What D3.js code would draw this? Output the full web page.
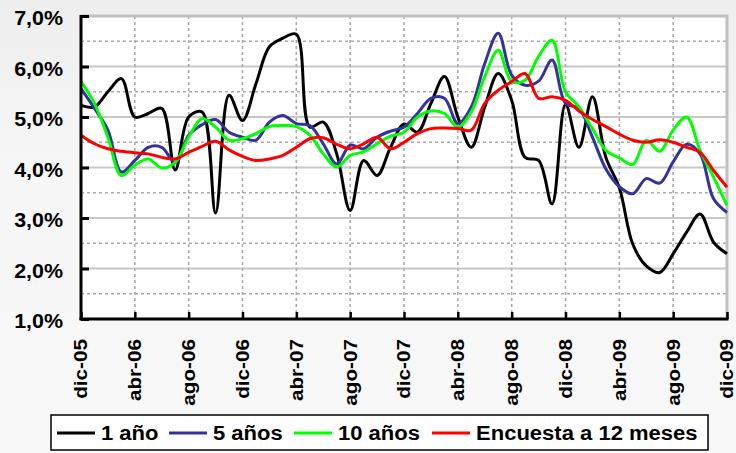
<!DOCTYPE html>
<html>
<head>
<meta charset="utf-8">
<script src="https://cdn.jsdelivr.net/npm/d3@7"></script>
<style>
  html, body { margin: 0; padding: 0; }
  body { width: 736px; height: 453px; overflow: hidden;
         background: linear-gradient(#eeeeee, #f7f7f7 40%, #f8f8f8); }
  text { font-family: "Liberation Sans", Arial, sans-serif; font-weight: bold; fill: #000; }
</style>
</head>
<body>
<svg id="chart" width="736" height="453"></svg>
<script>
// Expectativas de inflación: tasas implícitas (1, 5 y 10 años) y encuesta a 12 meses
const inicio = new Date(2005, 11, 1);
const fin = new Date(2009, 11, 1);
const meses = d3.timeMonth.range(inicio, d3.timeMonth.offset(fin, 1));

const unAno = [5.23, 5.2, 5.5, 5.76, 5.0, 5.07, 5.17, 3.95, 5.0, 5.1, 3.1, 5.43, 4.93,
  5.66, 6.39, 6.56, 6.64, 4.8, 4.9, 4.27, 3.15, 4.14, 3.84, 4.4, 4.86,
  4.7, 5.27, 5.8, 5.0, 4.4, 5.2, 5.86, 5.33, 4.2, 4.14, 3.28, 5.25,
  4.4, 5.4, 4.2, 3.6, 2.48, 2.05, 1.92, 2.29, 2.72, 3.08, 2.52, 2.29];

const cincoAnos = [5.56, 5.17, 4.74, 3.91, 4.14, 4.4, 4.4, 4.1, 4.64, 4.85, 4.95, 4.7, 4.6,
  4.54, 4.9, 5.03, 4.87, 4.83, 4.47, 4.07, 4.44, 4.37, 4.6, 4.72, 4.8,
  5.07, 5.37, 5.37, 4.87, 5.2, 6.06, 6.66, 5.83, 5.63, 5.71, 6.13, 5.27,
  5.17, 4.6, 3.97, 3.62, 3.48, 3.78, 3.69, 4.11, 4.46, 4.27, 3.38, 3.11];

const diezAnos = [5.7, 5.27, 4.6, 3.84, 4.05, 4.17, 3.99, 4.1, 4.6, 4.97, 4.8, 4.54, 4.57,
  4.67, 4.81, 4.83, 4.81, 4.64, 4.27, 4.01, 4.24, 4.31, 4.47, 4.62, 4.7,
  5.0, 5.12, 5.07, 4.8, 5.1, 5.8, 6.32, 5.7, 5.73, 6.2, 6.52, 5.5,
  5.2, 4.77, 4.34, 4.19, 4.06, 4.54, 4.32, 4.74, 5.0, 4.34, 3.81, 3.25];

const encuesta = [4.64, 4.47, 4.37, 4.32, 4.29, 4.27, 4.2, 4.17, 4.3, 4.42, 4.52, 4.35, 4.22,
  4.14, 4.17, 4.24, 4.4, 4.57, 4.59, 4.46, 4.37, 4.47, 4.6, 4.37, 4.5,
  4.67, 4.77, 4.78, 4.77, 4.74, 5.27, 5.53, 5.7, 5.86, 5.37, 5.4, 5.33,
  5.12, 4.95, 4.81, 4.66, 4.54, 4.5, 4.55, 4.5, 4.4, 4.3, 3.94, 3.61];

const seriesNombres = ["1 año", "5 años", "10 años", "Encuesta a 12 meses"];
const seriesColores = ["#000000", "#333399", "#00ff00", "#ff0000"];
const seriesValores = [unAno, cincoAnos, diezAnos, encuesta];

const xTickLabels = ["dic-05", "abr-06", "ago-06", "dic-06", "abr-07", "ago-07", "dic-07",
  "abr-08", "ago-08", "dic-08", "abr-09", "ago-09", "dic-09"];
const yTicks = [1, 2, 3, 4, 5, 6, 7];
const yHalfTicks = [1.5, 2.5, 3.5, 4.5, 5.5, 6.5];

const svg = d3.select("#chart");
const plotL = 81, plotR = 727, plotT = 16, plotB = 319;

// months are placed at equal spacing, like category positions
const x = d3.scalePoint().domain(d3.range(meses.length)).range([plotL, plotR]);
const y = d3.scaleLinear().domain([1, 7]).range([plotB, plotT]);

// one labelled tick every four months, starting at dic-05
const xTicks = d3.range(0, meses.length, 4);

const esLocale = d3.formatLocale({ decimal: ",", thousands: ".", grouping: [3], currency: ["", " €"] });
const fmtPct = v => esLocale.format(".1f")(v) + "%";

// plot area
svg.append("rect").attr("x", plotL).attr("y", plotT)
  .attr("width", plotR - plotL).attr("height", plotB - plotT).attr("fill", "#fff");

// horizontal grid: solid at whole percentages, dashed at halves
svg.append("g").selectAll("line").data(yTicks.filter(d => d > 1 && d < 7)).join("line")
  .attr("x1", plotL).attr("x2", plotR).attr("y1", d => y(d)).attr("y2", d => y(d))
  .attr("stroke", "#c8c8c8").attr("stroke-width", 2);
svg.append("g").selectAll("line").data(yHalfTicks).join("line")
  .attr("x1", plotL).attr("x2", plotR).attr("y1", d => y(d)).attr("y2", d => y(d))
  .attr("stroke", "#ababab").attr("stroke-width", 1.6).attr("stroke-dasharray", "3,3");
// vertical dashed grid at each labelled month
svg.append("g").selectAll("line").data(xTicks.slice(1, -1)).join("line")
  .attr("x1", d => x(d)).attr("x2", d => x(d)).attr("y1", plotT).attr("y2", plotB)
  .attr("stroke", "#ababab").attr("stroke-width", 1.6).attr("stroke-dasharray", "3,3");

// top and right frame
svg.append("path")
  .attr("d", `M${plotL},${plotT}H${plotR}V${plotB}`)
  .attr("fill", "none").attr("stroke", "#c0c0c0").attr("stroke-width", 3);

// series
const line = d3.line()
  .x((d, i) => x(i))
  .y(d => y(d))
  .curve(d3.curveCatmullRom.alpha(0.5));

svg.append("g").selectAll("path").data(seriesValores).join("path")
  .attr("d", d => line(d))
  .attr("fill", "none")
  .attr("stroke", (d, i) => seriesColores[i])
  .attr("stroke-width", 3)
  .attr("stroke-linejoin", "round");

// axes
const yAxis = svg.append("g").attr("transform", `translate(${plotL},0)`)
  .call(d3.axisRight(y).tickValues(yTicks).tickSize(8).tickFormat(""));
yAxis.select(".domain").attr("stroke", "#000").attr("stroke-width", 3).attr("d", `M0,${plotT - 1}V${plotB + 1}`);
yAxis.selectAll(".tick line").attr("stroke", "#000").attr("stroke-width", 3);

const xAxis = svg.append("g").attr("transform", `translate(0,${plotB})`)
  .call(d3.axisTop(x).tickValues(xTicks).tickSize(7).tickFormat(""));
xAxis.select(".domain").attr("stroke", "#000").attr("stroke-width", 3).attr("d", `M${plotL - 1.5},0H${plotR + 1.5}`);
xAxis.selectAll(".tick line").attr("stroke", "#000").attr("stroke-width", 2.5);

// y labels
svg.append("g").selectAll("text").data(yTicks).join("text")
  .attr("transform", d => `translate(63,${y(d) + 9}) scale(1.1,1)`)
  .attr("text-anchor", "end")
  .attr("font-size", "19.5px")
  .text(d => fmtPct(d));

// x labels
svg.append("g").selectAll("text").data(xTicks).join("text")
  .attr("transform", d => `translate(${x(d)},339) rotate(-90) scale(1.15,1)`)
  .attr("text-anchor", "end")
  .attr("dy", "0.36em")
  .attr("font-size", "18px")
  .text((d, i) => xTickLabels[i]);

// legend
const legend = svg.append("g");
legend.append("rect").attr("x", 51).attr("y", 415).attr("width", 657).attr("height", 35)
  .attr("fill", "#fff").attr("stroke", "#000").attr("stroke-width", 1.5);
const legendX = [57, 169, 294, 432];
seriesNombres.forEach((nombre, i) => {
  legend.append("line")
    .attr("x1", legendX[i]).attr("x2", legendX[i] + 38)
    .attr("y1", 433).attr("y2", 433)
    .attr("stroke", seriesColores[i]).attr("stroke-width", 3);
  legend.append("text")
    .attr("transform", `translate(${legendX[i] + 44},439.5) scale(1.13,1)`)
    .attr("font-size", "19.5px")
    .text(nombre);
});
</script>
</body>
</html>
